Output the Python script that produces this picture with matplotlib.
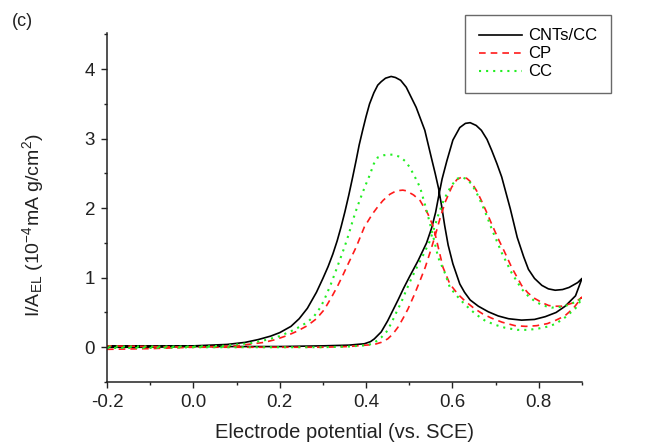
import matplotlib
matplotlib.use("Agg")
import matplotlib.pyplot as plt
from matplotlib.ticker import MultipleLocator

plt.rcParams['font.family'] = ['Liberation Sans', 'DejaVu Sans']
plt.rcParams['mathtext.fontset'] = 'custom'
plt.rcParams['mathtext.rm'] = 'Liberation Sans'
plt.rcParams['mathtext.it'] = 'Liberation Sans:italic'

# ---- data (potential V vs SCE, current 1e-4 mA g/cm2) ----
# each series: forward scan (-0.2 -> 0.9) then reverse scan (0.9 -> -0.2)
cnt_x = [-0.200, -0.100, 0.000, 0.100, 0.200, 0.300, 0.360, 0.396, 0.410, 0.419, 0.435,
         0.450, 0.462, 0.474, 0.487, 0.501, 0.520, 0.540, 0.552, 0.561, 0.568, 0.576,
         0.587, 0.601, 0.617, 0.630, 0.641, 0.655, 0.667, 0.680, 0.691, 0.703, 0.714,
         0.734, 0.750, 0.765, 0.776, 0.790, 0.807, 0.822, 0.838, 0.855, 0.870, 0.890,
         0.900,
         0.885, 0.861, 0.840, 0.815, 0.790, 0.760, 0.730, 0.706, 0.683, 0.660, 0.641,
         0.628, 0.617, 0.601, 0.590, 0.582, 0.575, 0.568, 0.560, 0.551, 0.536, 0.516,
         0.493, 0.480, 0.468, 0.458, 0.445, 0.435, 0.427, 0.418, 0.408, 0.400, 0.392,
         0.384, 0.377, 0.369, 0.360, 0.351, 0.342, 0.333, 0.323, 0.312, 0.300, 0.285,
         0.264, 0.245, 0.226, 0.200, 0.179, 0.150, 0.120, 0.078, 0.000, -0.100, -0.200]
cnt_y = [0.00, 0.00, 0.01, 0.01, 0.01, 0.02, 0.03, 0.05, 0.08, 0.12, 0.22,
         0.38, 0.53, 0.68, 0.85, 1.02, 1.24, 1.50, 1.72, 1.94, 2.17, 2.42,
         2.68, 2.98, 3.16, 3.22, 3.23, 3.19, 3.12, 2.99, 2.83, 2.64, 2.45,
         1.99, 1.58, 1.30, 1.12, 0.99, 0.89, 0.84, 0.82, 0.83, 0.86, 0.93,
         0.99,
         0.74, 0.59, 0.50, 0.44, 0.40, 0.39, 0.41, 0.45, 0.51, 0.59, 0.68,
         0.79, 0.91, 1.20, 1.47, 1.75, 2.03, 2.28, 2.50, 2.73, 3.12, 3.45,
         3.74, 3.84, 3.88, 3.895, 3.87, 3.82, 3.77, 3.66, 3.50, 3.32, 3.12,
         2.91, 2.69, 2.45, 2.19, 1.95, 1.73, 1.53, 1.34, 1.16, 0.99, 0.79,
         0.56, 0.41, 0.30, 0.21, 0.16, 0.11, 0.07, 0.04, 0.02, 0.02, 0.02]

cp_x = [-0.200, -0.100, 0.000, 0.100, 0.200, 0.300, 0.360, 0.419, 0.435, 0.450, 0.462,
        0.474, 0.486, 0.497, 0.512, 0.525, 0.537, 0.550, 0.562, 0.572, 0.584, 0.598,
        0.610, 0.622, 0.633, 0.644, 0.656, 0.667, 0.680, 0.691, 0.706, 0.720, 0.737,
        0.760, 0.775, 0.791, 0.808, 0.823, 0.838, 0.853, 0.870, 0.885, 0.900,
        0.880, 0.860, 0.840, 0.820, 0.795, 0.770, 0.745, 0.715, 0.690, 0.670, 0.650,
        0.630, 0.613, 0.594, 0.578, 0.567, 0.556, 0.543, 0.525, 0.510, 0.493, 0.485,
        0.470, 0.455, 0.439, 0.427, 0.415, 0.396, 0.377, 0.357, 0.345, 0.334, 0.320,
        0.303, 0.285, 0.264, 0.240, 0.218, 0.190, 0.164, 0.100, 0.000, -0.100, -0.200]
cp_y = [-0.03, -0.02, 0.00, 0.00, 0.00, 0.00, 0.01, 0.04, 0.07, 0.12, 0.19,
        0.29, 0.42, 0.55, 0.76, 0.96, 1.15, 1.40, 1.65, 1.87, 2.10, 2.30,
        2.41, 2.45, 2.43, 2.37, 2.25, 2.11, 1.93, 1.77, 1.56, 1.38, 1.15,
        0.89, 0.78, 0.70, 0.64, 0.60, 0.59, 0.59, 0.62, 0.65, 0.72,
        0.56, 0.45, 0.39, 0.34, 0.31, 0.30, 0.31, 0.36, 0.42, 0.48, 0.56,
        0.66, 0.76, 0.91, 1.15, 1.44, 1.73, 1.92, 2.11, 2.19, 2.25, 2.26,
        2.25, 2.20, 2.11, 2.02, 1.92, 1.73, 1.44, 1.18, 1.02, 0.88, 0.72,
        0.54, 0.41, 0.31, 0.23, 0.17, 0.11, 0.07, 0.02, 0.00, 0.01, 0.02]

cc_x = [-0.200, -0.100, 0.000, 0.100, 0.200, 0.300, 0.360, 0.404, 0.420, 0.435, 0.447,
        0.458, 0.470, 0.481, 0.493, 0.505, 0.520, 0.535, 0.547, 0.558, 0.568, 0.580,
        0.597, 0.610, 0.620, 0.632, 0.644, 0.656, 0.668, 0.680, 0.691, 0.714, 0.737,
        0.760, 0.775, 0.791, 0.810, 0.830, 0.850, 0.870, 0.900,
        0.885, 0.861, 0.840, 0.823, 0.800, 0.776, 0.750, 0.722, 0.700, 0.676, 0.655,
        0.640, 0.625, 0.610, 0.594, 0.583, 0.567, 0.556, 0.540, 0.525, 0.513, 0.501,
        0.490, 0.478, 0.462, 0.450, 0.440, 0.427, 0.418, 0.408, 0.398, 0.388, 0.378,
        0.369, 0.360, 0.350, 0.340, 0.330, 0.318, 0.305, 0.295, 0.280, 0.264, 0.245,
        0.226, 0.200, 0.172, 0.133, 0.070, 0.000, -0.100, -0.200]
cc_y = [-0.01, -0.01, 0.00, 0.00, 0.00, 0.00, 0.01, 0.03, 0.07, 0.14, 0.22,
        0.34, 0.50, 0.64, 0.82, 0.99, 1.18, 1.36, 1.52, 1.72, 1.92, 2.12,
        2.32, 2.42, 2.45, 2.42, 2.35, 2.22, 2.06, 1.88, 1.70, 1.36, 1.07,
        0.84, 0.74, 0.66, 0.60, 0.57, 0.58, 0.61, 0.70,
        0.56, 0.43, 0.34, 0.30, 0.27, 0.25, 0.25, 0.28, 0.32, 0.38, 0.47,
        0.55, 0.64, 0.74, 0.86, 1.06, 1.29, 1.58, 1.97, 2.30, 2.45, 2.59,
        2.68, 2.74, 2.77, 2.77, 2.76, 2.73, 2.64, 2.47, 2.32, 2.16, 1.99,
        1.82, 1.63, 1.44, 1.27, 1.10, 0.90, 0.71, 0.58, 0.45, 0.36, 0.29,
        0.23, 0.16, 0.11, 0.06, 0.02, 0.01, 0.01, 0.01]

labels = ['CNTs/CC', 'CP', 'CC']
xticks = [-0.2, 0.0, 0.2, 0.4, 0.6, 0.8]
xtick_labels = ['-0.2', '0.0', '0.2', '0.4', '0.6', '0.8']
yticks = [0, 1, 2, 3, 4]
ytick_labels = ['0', '1', '2', '3', '4']

fig = plt.figure(figsize=(6.67, 4.46), dpi=100)
ax = fig.add_axes([107/667, 1-382/446, (582-107)/667, (382-33)/446])

ax.plot(cnt_x, cnt_y, color='black', lw=1.2, label=labels[0], solid_joinstyle='round')
ax.plot(cp_x, cp_y, color='#ff1a1a', lw=1.2, ls=(0, (4, 3)), label=labels[1])
ax.plot(cc_x, cc_y, color='#22ee22', lw=1.5, ls=(0, (1, 2.4)), label=labels[2])

ax.set_xlim(-0.2, 0.9)
ax.set_ylim(-0.5, 4.52)
ax.xaxis.set_minor_locator(MultipleLocator(0.1))
ax.yaxis.set_minor_locator(MultipleLocator(0.5))
ax.set_xticks(xticks)
ax.set_xticklabels(xtick_labels)
ax.set_yticks(yticks)
ax.set_yticklabels(ytick_labels)

for s in ['top', 'right']:
    ax.spines[s].set_visible(False)
for s in ['left', 'bottom']:
    ax.spines[s].set_linewidth(1.1)
    ax.spines[s].set_color('#222222')
ax.tick_params(which='major', direction='out', length=4.5, width=1.0, labelsize=13.5,
               pad=4, colors='#222222')
ax.tick_params(which='minor', direction='out', length=2.5, width=1.0, colors='#222222')

ax.set_xlabel('Electrode potential (vs. SCE)', fontsize=14.5, labelpad=9, color='#222222')
fig.text(33/667, 1-225/446, r'I/A$_{\mathrm{EL}}$ (10$^{-4}$mA g/cm$^{2}$)', rotation=90,
         fontsize=14, ha='center', va='center', color='#222222')
fig.text(12/667, 1-22/446, '(c)', fontsize=13, ha='left', va='center', color='#222222')

leg = ax.legend(loc='upper right', bbox_to_anchor=(611/667, 1-15/446),
                bbox_transform=fig.transFigure, frameon=True, fancybox=False,
                fontsize=12, handlelength=2.6, handletextpad=0.4, borderpad=0.8,
                labelspacing=0.18, borderaxespad=0)
leg.get_frame().set_edgecolor('#444444')
leg.get_frame().set_linewidth(1.0)

fig.savefig('out.png', dpi=100)
